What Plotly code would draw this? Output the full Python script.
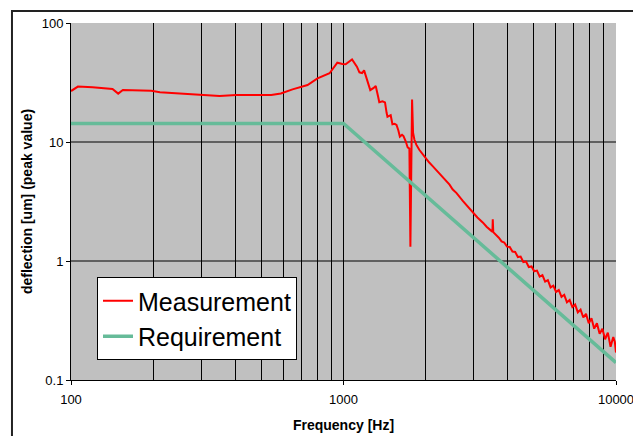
import plotly.graph_objects as go

meas_freq = [100, 106, 120, 142, 149, 155, 197, 212, 268, 351, 404, 543, 589, 650, 738, 803, 889, 949, 991, 1018,
             1075, 1120, 1144, 1170, 1190, 1220, 1254, 1290, 1313, 1340, 1353, 1390, 1420, 1440, 1450, 1490, 1512,
             1540, 1565, 1590, 1610, 1640, 1660, 1690, 1720, 1745, 1760, 1785, 1800, 1820, 1850, 1897, 1950, 2000,
             2060, 2120, 2180, 2240, 2300, 2380, 2450, 2513, 2600, 2740, 2850, 2970, 3100, 3250, 3350, 3480, 3520,
             3530, 3545, 3715, 3802, 3890, 3981, 4074, 4169,
             4266, 4365, 4467, 4571, 4677, 4786, 4898, 5012, 5129, 5248, 5370, 5495, 5623, 5754, 5888, 6026, 6166,
             6310, 6457, 6607, 6761, 6918, 7079, 7244, 7413, 7586, 7762, 7943, 8128, 8318, 8511, 8710, 8913, 9120,
             9333, 9550, 9772, 9900, 10000]
meas_vals = [26.8, 29.2, 28.9, 27.9, 25.5, 27.4, 27.0, 26.2, 25.3, 24.4, 24.8, 24.8, 25.6, 27.7, 30.1, 34.3, 37.8,
             46.4, 45.2, 45.0, 49.5, 43.0, 38.5, 38.0, 40.0, 34.0, 27.3, 28.5, 29.6, 24.0, 21.6, 22.0, 21.5, 17.5,
             16.3, 16.8, 14.1, 14.2, 13.9, 12.5, 11.1, 11.5, 11.2, 10.2, 9.0, 8.8, 1.32, 22.8, 12.0, 10.5, 9.5, 8.6,
             7.9, 7.3, 6.75, 6.3, 5.85, 5.46, 5.12, 4.7, 4.38, 4.0, 3.72, 3.2, 2.88, 2.55, 2.32, 2.1, 1.94, 1.8, 1.76,
             2.24, 1.75, 1.57, 1.46, 1.43, 1.32, 1.31, 1.20,
             1.19, 1.08, 1.09, 0.98, 0.99, 0.89, 0.90, 0.82, 0.83, 0.74, 0.76, 0.67, 0.69, 0.60, 0.62, 0.55,
             0.57, 0.50, 0.52, 0.45, 0.47, 0.41, 0.43, 0.37, 0.39, 0.335, 0.36, 0.30, 0.33, 0.27, 0.30, 0.245, 0.27,
             0.22, 0.25, 0.19, 0.23, 0.21, 0.17]

# Requirement curve
req_freq = [100, 1000, 10000]
req_vals = [14.3, 14.3, 0.14]

x_ticks = [100, 1000, 10000]
x_minor = [200, 300, 400, 500, 600, 700, 800, 900, 2000, 3000, 4000, 5000, 6000, 7000, 8000, 9000]
y_ticks = [0.1, 1, 10, 100]
y_ticktext = ["0.1", "1", "10", "100"]
y_grid = [1, 10]

FONT = "Liberation Sans, Arial, sans-serif"

fig = go.Figure()
fig.add_trace(go.Scatter(x=meas_freq, y=meas_vals, mode="lines", name="Measurement",
                         line=dict(color="#FF0000", width=2)))
fig.add_trace(go.Scatter(x=req_freq, y=req_vals, mode="lines", name="Requirement",
                         line=dict(color="#66BB99", width=3.5)))

shapes = []
for yv in y_grid:
    shapes.append(dict(type="line", xref="paper", yref="y", x0=0, x1=1, y0=yv, y1=yv,
                       line=dict(color="black", width=1), layer="below"))
# outer frame of the chart
shapes.append(dict(type="rect", xref="paper", yref="paper", x0=-0.1083, x1=1.0404, y0=-0.19, y1=1.0336,
                   line=dict(color="#222222", width=2), fillcolor="rgba(0,0,0,0)"))

fig.update_layout(
    width=633, height=428, autosize=False,
    margin=dict(l=63, r=25, t=15, b=56, autoexpand=False),
    paper_bgcolor="white", plot_bgcolor="#C0C0C0",
    font=dict(family=FONT, size=13, color="black"),
    showlegend=True,
    legend=dict(x=0.0477, y=0.2885, xanchor="left", yanchor="top",
                bgcolor="white", bordercolor="black", borderwidth=1,
                font=dict(family=FONT, size=25, color="black"),
                itemwidth=30, tracegroupgap=0),
    shapes=shapes,
    xaxis=dict(type="log", range=[2, 4], tickmode="array", tickvals=x_ticks,
               ticktext=[str(v) for v in x_ticks], ticks="outside", ticklen=4, tickcolor="black",
               ticklabelstandoff=3, automargin=False,
               showgrid=True, gridcolor="black", gridwidth=1,
               minor=dict(tickmode="array", tickvals=x_minor, showgrid=True, gridcolor="black",
                          gridwidth=1, ticks=""),
               showline=True, linecolor="black", linewidth=1, zeroline=False,
               title=dict(text="<b>Frequency [Hz]</b>", font=dict(family=FONT, size=14), standoff=14),
               tickfont=dict(family=FONT, size=13)),
    yaxis=dict(type="log", range=[-1, 2], tickmode="array", tickvals=y_ticks, ticktext=y_ticktext,
               ticks="outside", ticklen=4, tickcolor="black", showgrid=False, automargin=False,
               showline=True, linecolor="black", linewidth=1, zeroline=False,
               title=dict(text="<b>deflection [um] (peak value)</b>", font=dict(family=FONT, size=14),
                          standoff=5),
               tickfont=dict(family=FONT, size=13)),
)

fig.write_html("out.html")
